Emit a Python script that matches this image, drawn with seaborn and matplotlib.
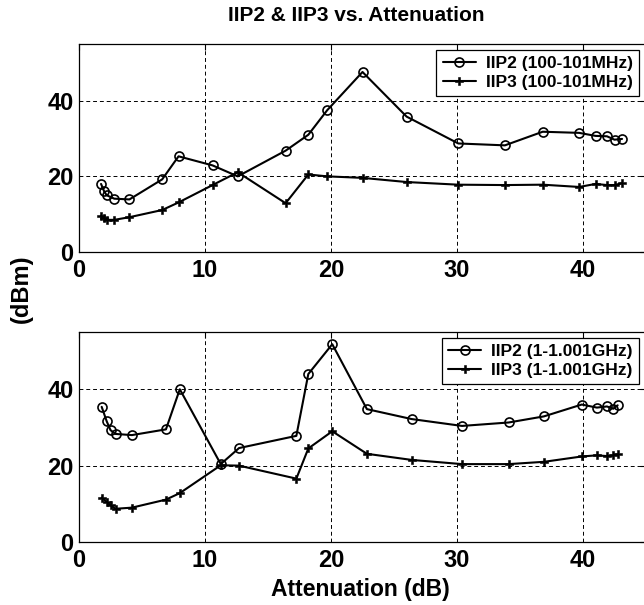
import matplotlib
matplotlib.use("Agg")
import matplotlib.pyplot as plt
import seaborn as sns
import pandas as pd

# Attenuation sweep points (dB) and measured intercept points (dBm)
atten_mhz = [1.75, 2.0, 2.2, 2.8, 4.0, 6.6, 7.9, 10.6, 12.6, 16.4, 18.2, 19.7,
             22.5, 26.0, 30.1, 33.8, 36.8, 39.7, 41.0, 41.9, 42.5, 43.1]
iip2_mhz = [18.0, 16.0, 15.0, 14.1, 13.9, 19.2, 25.3, 22.9, 20.0, 26.8, 31.0, 37.5,
            47.6, 35.8, 28.7, 28.2, 31.8, 31.5, 30.7, 30.6, 29.7, 29.9]
iip3_mhz = [9.6, 9.0, 8.5, 8.5, 9.2, 11.1, 13.1, 17.7, 21.1, 12.9, 20.5, 20.0,
            19.6, 18.5, 17.8, 17.7, 17.8, 17.2, 18.0, 17.7, 17.7, 18.2]

atten_ghz = [1.8, 2.2, 2.5, 2.9, 4.2, 6.9, 8.0, 11.25, 12.7, 17.25, 18.2, 20.1,
             22.85, 26.4, 30.4, 34.1, 36.9, 39.9, 41.1, 41.9, 42.4, 42.75]
iip2_ghz = [35.4, 31.6, 29.3, 28.3, 28.0, 29.5, 40.0, 20.4, 24.6, 27.8, 44.0, 51.8,
            34.8, 32.2, 30.4, 31.3, 32.9, 36.0, 35.2, 35.5, 34.9, 35.8]
iip3_ghz = [11.6, 10.5, 9.6, 8.7, 9.0, 11.1, 12.8, 20.1, 20.0, 16.6, 24.5, 29.0,
            23.1, 21.5, 20.4, 20.4, 21.0, 22.4, 22.7, 22.5, 22.7, 23.0]

labels_mhz = ["IIP2 (100-101MHz)", "IIP3 (100-101MHz)"]
labels_ghz = ["IIP2 (1-1.001GHz)", "IIP3 (1-1.001GHz)"]

x_ticks = [0, 10, 20, 30, 40]
y_ticks = [0, 20, 40]

sns.set_style("white")
plt.rcParams["font.family"] = ["Liberation Sans", "DejaVu Sans"]
plt.rcParams["font.weight"] = "bold"
plt.rcParams["text.color"] = "black"
plt.rcParams["axes.labelcolor"] = "black"
plt.rcParams["xtick.color"] = "black"
plt.rcParams["ytick.color"] = "black"

W, H = 644, 605
fig = plt.figure(figsize=(W / 100, H / 100), dpi=100)


def frac_axes(left, top, right, bottom):
    return fig.add_axes([left / W, 1 - bottom / H, (right - left) / W, (bottom - top) / H])


ax_top = frac_axes(79, 44, 646, 252)
ax_bot = frac_axes(79, 332, 646, 542)

line_kw = dict(color="black", linewidth=1.5, sort=False, estimator=None)
circle_kw = dict(marker="o", markersize=6.5, markerfacecolor="none",
                 markeredgecolor="black", markeredgewidth=1.2)
plus_kw = dict(marker="P", markersize=5.5, markerfacecolor="black",
               markeredgecolor="black", markeredgewidth=0.4)


def draw_panel(ax, x, y2, y3, labels, legend_anchor):
    df = pd.DataFrame({"atten": x, "iip2": y2, "iip3": y3})
    sns.lineplot(data=df, x="atten", y="iip2", ax=ax, label=labels[0], **line_kw, **circle_kw)
    sns.lineplot(data=df, x="atten", y="iip3", ax=ax, label=labels[1], **line_kw, **plus_kw)
    ax.set_xlim(0, 45)
    ax.set_ylim(0, 55)
    ax.set_xticks(x_ticks)
    ax.set_yticks(y_ticks)
    ax.set_xlabel("")
    ax.set_ylabel("")
    ax.grid(True, color="black", linestyle=(0, (4, 3)), linewidth=0.7)
    for s in ax.spines.values():
        s.set_color("black")
        s.set_linewidth(0.9)
    ax.tick_params(axis="both", direction="in", length=4, width=0.8,
                   top=True, right=True, labelsize=17, colors="black")
    ax.tick_params(axis="x", pad=5)
    ax.tick_params(axis="y", pad=4)
    for t in ax.get_xticklabels() + ax.get_yticklabels():
        t.set_fontweight("bold")
        t.set_color("black")
    leg = ax.legend(loc="upper right", bbox_to_anchor=legend_anchor,
                    bbox_transform=fig.transFigure, borderaxespad=0,
                    prop=dict(size=12.5, weight="bold"), frameon=True,
                    fancybox=False, edgecolor="black", framealpha=1,
                    handlelength=1.9, handletextpad=0.6, labelspacing=0.2,
                    borderpad=0.35)
    leg.get_frame().set_linewidth(0.9)
    for t in leg.get_texts():
        t.set_color("black")


draw_panel(ax_top, atten_mhz, iip2_mhz, iip3_mhz, labels_mhz, (639 / W, 1 - 50 / H))
draw_panel(ax_bot, atten_ghz, iip2_ghz, iip3_ghz, labels_ghz, (639 / W, 1 - 338 / H))

fig.text(356 / W, 1 - 21 / H, "IIP2 & IIP3 vs. Attenuation", ha="center", va="baseline",
         fontsize=15, fontweight="bold", color="black")
fig.text(21 / W, 1 - 289 / H, "(dBm)", ha="center", va="center", rotation=90,
         fontsize=17, fontweight="bold", color="black")
fig.text(360 / W, 1 - 596 / H, "Attenuation (dB)", ha="center", va="baseline",
         fontsize=16.5, fontweight="bold", color="black")

fig.savefig("out.png", dpi=100)
